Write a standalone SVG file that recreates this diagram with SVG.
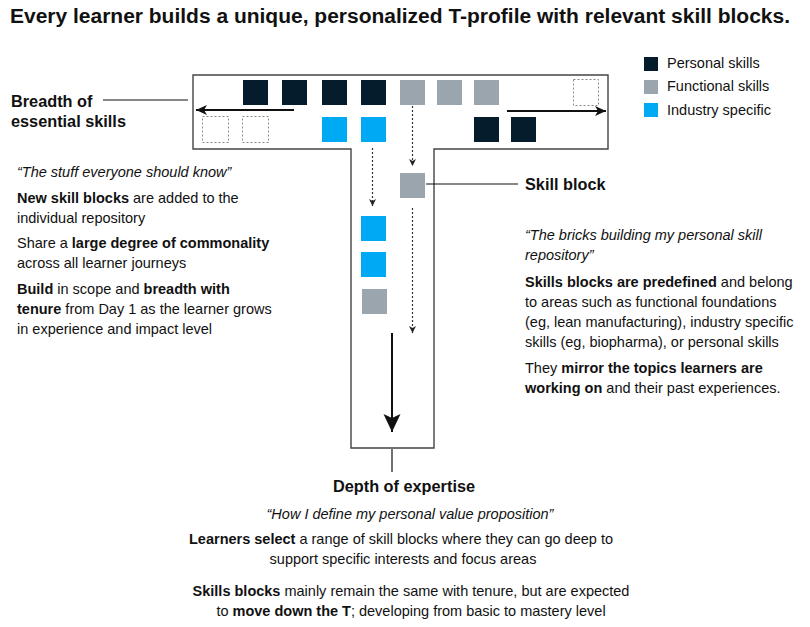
<svg xmlns="http://www.w3.org/2000/svg" width="810" height="627" viewBox="0 0 810 627">
<style>
  text { font-family: "Liberation Sans", Arial, sans-serif; fill: #111; }
  .b { font-weight: bold; }
  .i { font-style: italic; }
  .body { font-size: 14.5px; }
  .lbl { font-size: 16.3px; font-weight: bold; }
  .dark { fill: #051c2c; }
  .gray { fill: #9aa5ae; }
  .blue { fill: #00a9f4; }
  .empty { fill: none; stroke: #888; stroke-width: 1; stroke-dasharray: 2 2; }
  .outline { fill: none; stroke: #444; stroke-width: 1.4; }
  .solid { stroke: #111; stroke-width: 1.2; fill: none; }
  .arrow { stroke: #111; stroke-width: 2; fill: none; }
  .dotted { stroke: #333; stroke-width: 1.2; stroke-dasharray: 2 2; fill: none; }
</style>
<defs>
  <marker id="ah" markerUnits="userSpaceOnUse" markerWidth="12" markerHeight="10" refX="11" refY="5" orient="auto">
    <path d="M0,0 L11,5 L0,10 L3,5 z" fill="#111"/>
  </marker>
  <marker id="ahs" markerUnits="userSpaceOnUse" markerWidth="8" markerHeight="8" refX="7" refY="3.5" orient="auto">
    <path d="M0,0 L7,3.5 L0,7 L2,3.5 z" fill="#222"/>
  </marker>
  <marker id="ahb" markerUnits="userSpaceOnUse" markerWidth="20" markerHeight="18" refX="18" refY="8.5" orient="auto">
    <path d="M0,0 L18,8.5 L0,17 L4,8.5 z" fill="#111"/>
  </marker>
</defs>

<rect width="810" height="627" fill="#fff"/>

<g id="title">
  <text x="10" y="23" class="b" font-size="19.5" textLength="780" lengthAdjust="spacingAndGlyphs">Every learner builds a unique, personalized T-profile with relevant skill blocks.</text>
</g>

<g id="legend">
  <rect x="644" y="57" width="14" height="14" class="dark"/>
  <text x="667" y="68" class="body">Personal skills</text>
  <rect x="644" y="80" width="14" height="14" class="gray"/>
  <text x="667" y="91" class="body">Functional skills</text>
  <rect x="644" y="103" width="14" height="14" class="blue"/>
  <text x="667" y="115" class="body">Industry specific</text>
</g>

<g id="t-shape">
  <path class="outline" d="M351,149 L193,149 L193,75 L608,75 L608,149 L434,149 L434,448 L351,448 Z"/>
</g>

<g id="blocks">
  <rect x="243" y="80" width="25" height="25" class="dark"/>
  <rect x="282" y="80" width="25" height="25" class="dark"/>
  <rect x="322" y="80" width="25" height="25" class="dark"/>
  <rect x="361" y="80" width="25" height="25" class="dark"/>
  <rect x="400" y="80" width="25" height="25" class="gray"/>
  <rect x="437" y="80" width="25" height="25" class="gray"/>
  <rect x="474" y="80" width="25" height="25" class="gray"/>
  <rect x="573.5" y="79.5" width="25" height="26" class="empty"/>
  <rect x="202.5" y="116.5" width="26" height="26" class="empty"/>
  <rect x="242.5" y="116.5" width="26" height="26" class="empty"/>
  <rect x="322" y="117" width="25" height="25" class="blue"/>
  <rect x="361" y="117" width="25" height="25" class="blue"/>
  <rect x="474" y="117" width="25" height="25" class="dark"/>
  <rect x="511" y="117" width="25" height="25" class="dark"/>
  <rect x="361" y="216" width="25" height="25" class="blue"/>
  <rect x="361" y="252" width="25" height="25" class="blue"/>
  <rect x="362" y="289" width="25" height="25" class="gray"/>
</g>

<g id="skill-block">
  <rect x="400" y="173" width="25" height="25" class="gray"/>
</g>

<g id="connectors">
  <line x1="294" y1="110" x2="196" y2="110" class="arrow" marker-end="url(#ah)"/>
  <line x1="507" y1="111" x2="606" y2="111" class="arrow" marker-end="url(#ah)"/>
  <line x1="412.5" y1="106" x2="412.5" y2="166" class="dotted" marker-end="url(#ahs)"/>
  <line x1="372.5" y1="148" x2="372.5" y2="206" class="dotted" marker-end="url(#ahs)"/>
  <line x1="412.5" y1="208" x2="412.5" y2="333" class="dotted" marker-end="url(#ahs)"/>
  <line x1="392" y1="333" x2="392" y2="432" class="arrow" stroke-width="2.4" marker-end="url(#ahb)"/>
  <line x1="103" y1="100" x2="188" y2="100" class="solid"/>
  <line x1="426" y1="184" x2="518" y2="184" class="solid"/>
  <line x1="392" y1="449" x2="392" y2="472" class="solid"/>
</g>

<g id="breadth-label">
  <text x="11" y="107" class="lbl">Breadth of</text>
  <text x="11" y="127" class="lbl">essential skills</text>
</g>

<g id="left-text" class="body">
  <text x="17" y="177" class="i">“The stuff everyone should know”</text>
  <text x="17" y="203"><tspan class="b">New skill blocks</tspan> are added to the</text>
  <text x="17" y="223">individual repository</text>
  <text x="17" y="248">Share a <tspan class="b">large degree of commonality</tspan></text>
  <text x="17" y="268">across all learner journeys</text>
  <text x="17" y="294"><tspan class="b">Build</tspan> in scope and <tspan class="b">breadth with</tspan></text>
  <text x="17" y="314"><tspan class="b">tenure</tspan> from Day 1 as the learner grows</text>
  <text x="17" y="334">in experience and impact level</text>
</g>

<g id="skill-block-label">
  <text x="525" y="190" class="lbl">Skill block</text>
</g>

<g id="right-text" class="body">
  <text x="525" y="240" class="i">“The bricks building my personal skill</text>
  <text x="525" y="260" class="i">repository”</text>
  <text x="525" y="287"><tspan class="b">Skills blocks are predefined</tspan> and belong</text>
  <text x="525" y="307">to areas such as functional foundations</text>
  <text x="525" y="327">(eg, lean manufacturing), industry specific</text>
  <text x="525" y="347">skills (eg, biopharma), or personal skills</text>
  <text x="525" y="373">They <tspan class="b">mirror the topics learners are</tspan></text>
  <text x="525" y="393"><tspan class="b">working on</tspan> and their past experiences.</text>
</g>

<g id="depth-label">
  <text x="404" y="492" class="lbl" text-anchor="middle">Depth of expertise</text>
</g>

<g id="bottom-text" class="body" text-anchor="middle">
  <text x="410" y="519" class="i">“How I define my personal value proposition”</text>
  <text x="401" y="544"><tspan class="b">Learners select</tspan> a range of skill blocks where they can go deep to</text>
  <text x="403" y="564">support specific interests and focus areas</text>
  <text x="411" y="596"><tspan class="b">Skills blocks</tspan> mainly remain the same with tenure, but are expected</text>
  <text x="411" y="616">to <tspan class="b">move down the T</tspan>; developing from basic to mastery level</text>
</g>
</svg>
